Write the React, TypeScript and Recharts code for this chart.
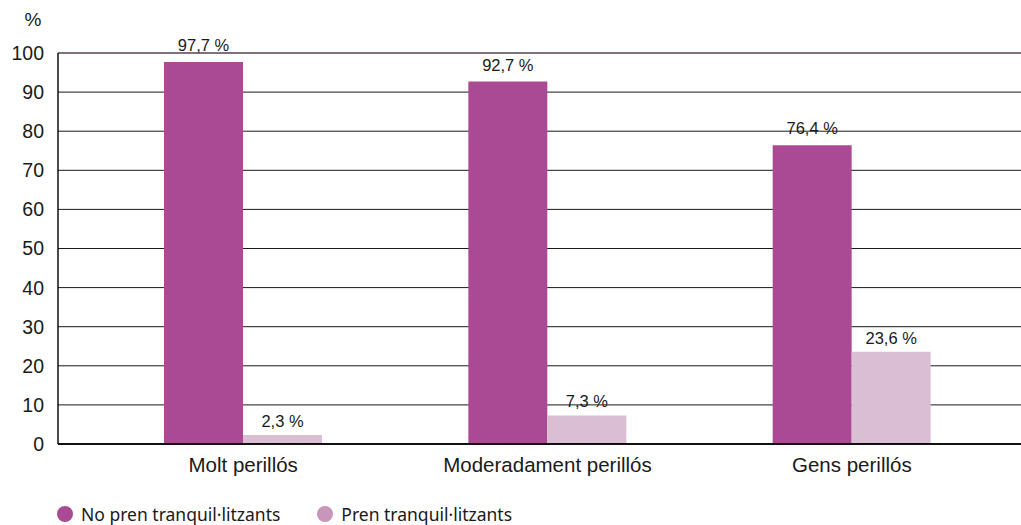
import React from 'react';
import { BarChart, Bar, XAxis, YAxis, CartesianGrid, LabelList, ReferenceLine } from 'recharts';

const categories = ['Molt perillós', 'Moderadament perillós', 'Gens perillós'];
const noPren = [97.7, 92.7, 76.4];
const pren = [2.3, 7.3, 23.6];
const yTicks = [0, 10, 20, 30, 40, 50, 60, 70, 80, 90, 100];
const seriesNames = ['No pren tranquil·litzants', 'Pren tranquil·litzants'];

const data = categories.map((c, i) => ({ name: c, a: noPren[i], b: pren[i] }));

const DARK = '#AB4A94';
const LIGHT = '#D9BED4';
const LIGHT_LEGEND = '#C896BB';
const FONT = '"Liberation Sans", Arial, Helvetica, sans-serif';

const fmt = (v: any) => `${String(v).replace('.', ',')} %`;

export default function App() {
  return (
    <div style={{ position: 'absolute', left: 0, top: 0, width: 1021, height: 525, background: '#fff', fontFamily: FONT }}>
      <BarChart
        width={1021}
        height={525}
        data={data}
        margin={{ top: 53, right: 0, left: 0, bottom: 0 }}
        barGap={0}
        barSize={79}
      >
        <CartesianGrid vertical={false} stroke="#1a1a1a" strokeWidth={1} />
        <ReferenceLine y={100} stroke="#7d6a78" strokeWidth={1.5} />
        <XAxis
          dataKey="name"
          height={81}
          padding={{ left: 33, right: 17 }}
          tickLine={false}
          axisLine={{ stroke: '#111', strokeWidth: 2 }}
          tickSize={6}
          tickMargin={7}
          tick={{ fill: '#1a1a1a', fontSize: 20.5, fontFamily: FONT }}
        />
        <YAxis
          width={58}
          domain={[0, 100]}
          ticks={yTicks}
          interval={0}
          tickLine={false}
          axisLine={{ stroke: '#111', strokeWidth: 1.5 }}
          tickSize={6}
          tickMargin={8}
          tick={{ fill: '#1a1a1a', fontSize: 19.5, fontFamily: FONT }}
          label={{ value: '%', position: 'top', offset: 27, dx: 4, fill: '#1a1a1a', fontSize: 19, fontFamily: FONT }}
        />
        <Bar dataKey="a" name={seriesNames[0]} fill={DARK} isAnimationActive={false}>
          <LabelList dataKey="a" position="top" offset={11} formatter={fmt} style={{ fill: '#1a1a1a', fontSize: 16.5, fontFamily: FONT }} />
        </Bar>
        <Bar dataKey="b" name={seriesNames[1]} fill={LIGHT} isAnimationActive={false}>
          <LabelList dataKey="b" position="top" offset={8} formatter={fmt} style={{ fill: '#1a1a1a', fontSize: 16.5, fontFamily: FONT }} />
        </Bar>
      </BarChart>
      <div style={{ position: 'absolute', left: 57, top: 502, height: 24, display: 'flex', alignItems: 'center', fontFamily: '"Noto Sans", sans-serif', fontSize: 17.5, color: '#1a1a1a', whiteSpace: 'nowrap' }}>
        <span style={{ display: 'inline-block', width: 16, height: 16, borderRadius: 8, background: DARK, marginRight: 8 }} />
        <span style={{ marginRight: 37 }}>{seriesNames[0]}</span>
        <span style={{ display: 'inline-block', width: 16, height: 16, borderRadius: 8, background: LIGHT_LEGEND, marginRight: 8 }} />
        <span>{seriesNames[1]}</span>
      </div>
    </div>
  );
}
